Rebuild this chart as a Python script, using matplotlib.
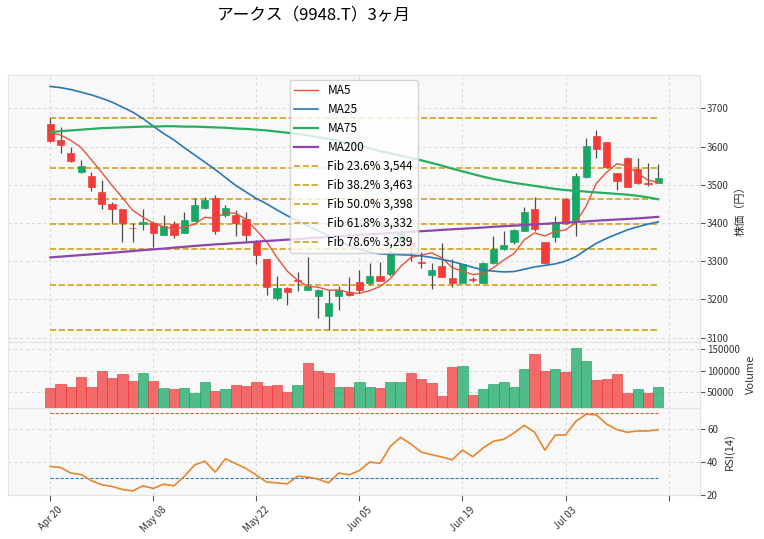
import matplotlib
matplotlib.use('Agg')
import matplotlib.pyplot as plt
from matplotlib.lines import Line2D
from matplotlib.ticker import FuncFormatter
import numpy as np

plt.rcParams['font.family'] = ['Noto Sans CJK JP', 'DejaVu Sans']

# ---------------- data ----------------
title = 'アークス（9948.T）3ヶ月'

opens = [3660, 3617, 3582, 3534, 3524, 3481, 3450, 3436, 3387, 3397,
         3399, 3369, 3397, 3374, 3405, 3440, 3466, 3420, 3420, 3410,
         3354, 3305, 3205, 3231, 3250, 3225, 3210, 3156, 3210, 3220,
         3246, 3244, 3262, 3266, 3349, 3347, 3297, 3265, 3288, 3257,
         3244, 3252, 3244, 3295, 3331, 3349, 3380, 3437, 3349, 3364,
         3464, 3406, 3521, 3627, 3611, 3530, 3571, 3540, 3505, 3505]
highs = [3675, 3650, 3599, 3566, 3534, 3512, 3456, 3437, 3401, 3436,
         3404, 3420, 3406, 3430, 3466, 3467, 3472, 3447, 3435, 3430,
         3355, 3306, 3262, 3233, 3271, 3310, 3227, 3225, 3236, 3260,
         3277, 3295, 3299, 3330, 3384, 3364, 3325, 3295, 3347, 3305,
         3294, 3260, 3297, 3366, 3380, 3383, 3443, 3467, 3350, 3417,
         3466, 3530, 3622, 3643, 3612, 3531, 3573, 3571, 3556, 3554]
lows = [3613, 3582, 3560, 3530, 3484, 3436, 3401, 3349, 3349, 3382,
        3336, 3368, 3360, 3373, 3404, 3437, 3370, 3416, 3365, 3349,
        3292, 3211, 3199, 3185, 3221, 3224, 3151, 3120, 3173, 3210,
        3217, 3238, 3248, 3262, 3330, 3300, 3282, 3228, 3258, 3232,
        3243, 3246, 3243, 3292, 3330, 3346, 3378, 3378, 3292, 3350,
        3397, 3366, 3517, 3571, 3545, 3486, 3494, 3503, 3498, 3504]
closes = [3615, 3604, 3561, 3550, 3495, 3450, 3436, 3399, 3386, 3402,
          3374, 3391, 3369, 3407, 3446, 3461, 3379, 3440, 3399, 3369,
          3316, 3233, 3231, 3220, 3249, 3236, 3226, 3192, 3225, 3211,
          3225, 3262, 3249, 3323, 3373, 3341, 3296, 3277, 3259, 3244,
          3292, 3251, 3296, 3332, 3342, 3381, 3430, 3384, 3295, 3402,
          3399, 3523, 3601, 3594, 3547, 3510, 3495, 3504, 3503, 3517]
prev_close = 3640  # close of the day before the window

volumes = [60700, 69800, 63000, 85900, 63000, 99600, 83600, 92700, 76700, 95000,
           76700, 60700, 58400, 60700, 49200, 74400, 53800, 58400, 67600, 65300,
           74400, 65300, 67600, 51500, 67600, 117900, 99600, 95000, 63000, 63000,
           74400, 63000, 60700, 74400, 74400, 95000, 81300, 72100, 42400, 108800,
           111100, 44700, 58400, 69800, 74400, 63000, 104200, 138500, 99600, 104200,
           97300, 152300, 122500, 79000, 81300, 92700, 49200, 58400, 49200, 63000]

ma5 = [3637, 3630, 3616, 3597, 3565, 3532, 3498, 3466, 3433, 3415,
       3399, 3390, 3384, 3389, 3397, 3415, 3412, 3427, 3425, 3410,
       3381, 3351, 3310, 3274, 3250, 3234, 3232, 3224, 3225, 3218,
       3216, 3223, 3234, 3254, 3286, 3310, 3316, 3322, 3309, 3283,
       3274, 3265, 3268, 3283, 3303, 3320, 3356, 3374, 3366, 3378,
       3382, 3401, 3444, 3504, 3533, 3555, 3549, 3530, 3512, 3506]
ma25 = [3757, 3754, 3749, 3742, 3735, 3726, 3716, 3703, 3690, 3673,
        3653, 3634, 3617, 3597, 3578, 3559, 3540, 3519, 3498, 3481,
        3464, 3450, 3434, 3419, 3406, 3392, 3380, 3366, 3354, 3341,
        3331, 3324, 3319, 3318, 3317, 3316, 3314, 3310, 3305, 3299,
        3292, 3284, 3277, 3274, 3272, 3273, 3279, 3285, 3289, 3293,
        3300, 3312, 3330, 3347, 3360, 3371, 3382, 3390, 3397, 3403]
ma75 = [3638, 3640, 3642, 3644, 3646, 3648, 3649, 3650, 3651, 3652,
        3652, 3653, 3653, 3652, 3652, 3651, 3650, 3649, 3647, 3646,
        3644, 3642, 3639, 3636, 3633, 3629, 3624, 3620, 3615, 3609,
        3602, 3595, 3588, 3582, 3576, 3570, 3564, 3557, 3550, 3542,
        3535, 3528, 3521, 3515, 3510, 3505, 3501, 3497, 3493, 3489,
        3486, 3484, 3482, 3480, 3478, 3476, 3474, 3471, 3467, 3462]
ma200 = [3310, 3312, 3314, 3316, 3318, 3320, 3322, 3324.5, 3326.5, 3329,
         3331, 3333, 3335.5, 3337.5, 3340, 3342, 3344, 3345.5, 3347.5, 3349,
         3351, 3353, 3354.5, 3356.5, 3358, 3360, 3362, 3363.5, 3365.5, 3367,
         3369, 3370.5, 3372, 3374, 3375.5, 3377, 3378.5, 3380, 3382, 3383.5,
         3385, 3386.5, 3388, 3390, 3391.5, 3393, 3394.5, 3396, 3398, 3399.5,
         3401, 3402.5, 3404, 3406, 3407.5, 3409, 3410.5, 3412, 3414, 3416]
rsi14 = [37.3, 36.7, 33.3, 32.4, 28.6, 26.1, 25.1, 23.3, 22.4, 25.5,
         23.9, 26.5, 25.5, 31.2, 38.2, 40.6, 33.9, 42.0, 39.0, 36.1,
         32.0, 27.8, 27.3, 26.7, 31.4, 30.8, 29.6, 27.3, 33.3, 32.2,
         34.9, 40.0, 39.3, 49.6, 55.1, 51.0, 46.1, 44.5, 43.1, 41.4,
         47.3, 43.3, 48.6, 52.7, 53.9, 57.8, 62.4, 58.2, 47.3, 56.5,
         56.5, 64.9, 69.2, 68.8, 63.1, 59.8, 58.2, 59.0, 59.0, 59.8]

tick_pos = [0, 10, 20, 30, 40, 50, 60]
tick_labels = ['Apr 20', 'May 08', 'May 22', 'Jun 05', 'Jun 19', 'Jul 03', '']

fib_high = 3675
fib_low = 3120
fib_ratios = [0.236, 0.382, 0.5, 0.618, 0.786]

# ---------------- styling ----------------
UP = '#17a865'
DOWN = '#f23b3b'
FACE = '#f8f8f8'
GRID = '#d8d8d8'
SPINE = '#e3e3e3'
FIB = '#d4a017'

fig = plt.figure(figsize=(7.64, 5.39), dpi=100)
L, W = 8 / 764, 691.5 / 764
ax1 = fig.add_axes([L, 197.3 / 539, W, 266.7 / 539])
ax2 = fig.add_axes([L, 131.3 / 539, W, 66 / 539], sharex=ax1)
ax3 = fig.add_axes([L, 44 / 539, W, 87.3 / 539], sharex=ax1)

for ax in (ax1, ax2, ax3):
    ax.set_facecolor(FACE)
    ax.grid(True, color=GRID, linestyle=(0, (3, 3)), linewidth=0.7)
    ax.set_axisbelow(True)
    for s in ax.spines.values():
        s.set_color(SPINE)
        s.set_linewidth(0.8)
    ax.yaxis.tick_right()
    ax.yaxis.set_label_position('right')
    ax.tick_params(axis='y', labelsize=7, length=3.5, color='#555555',
                   labelcolor='#333333', direction='out', pad=2)

n = len(closes)
x = np.arange(n)
o = np.array(opens, float)
h = np.array(highs, float)
lo = np.array(lows, float)
c = np.array(closes, float)
up = c >= o

# ---------------- price panel ----------------
fib_levels = [fib_high - r * (fib_high - fib_low) for r in fib_ratios]
ax1.hlines([fib_high, fib_low], 0, n - 1, colors=FIB, linestyles='--',
           linewidth=1.2, zorder=1.5)
fib_handles = []
for r, lev in zip(fib_ratios, fib_levels):
    ax1.hlines(lev, 0, n - 1, colors=FIB, linestyles='--', linewidth=1.2, zorder=1.5)
    fib_handles.append(Line2D([], [], color=FIB, linestyle='--', linewidth=1.2,
                              label=f'Fib {r * 100:.1f}% {lev:,.0f}'))

ax1.vlines(x, lo, h, colors='#4d4d4d', linewidth=0.9, zorder=2)
body_bottom = np.minimum(o, c)
body_h = np.maximum(np.abs(c - o), 1.3)
colors = np.where(up, UP, DOWN)
ax1.bar(x, body_h, bottom=body_bottom, width=0.7, color=colors,
        edgecolor=colors, linewidth=0.5, zorder=3)

l5, = ax1.plot(x, ma5, color='#e5533d', linewidth=1.0, zorder=4, label='MA5')
l25, = ax1.plot(x, ma25, color='#2878b5', linewidth=1.2, zorder=4, label='MA25')
l75, = ax1.plot(x, ma75, color='#27ae60', linewidth=1.6, zorder=4, label='MA75')
l200, = ax1.plot(x, ma200, color='#8e44ad', linewidth=1.6, zorder=4, label='MA200')

leg = ax1.legend(handles=[l5, l25, l75, l200] + fib_handles, loc='upper center',
                 fontsize=8.5, framealpha=0.8, edgecolor='#cccccc',
                 borderaxespad=0.4, handlelength=2.0, labelspacing=0.5)
leg.set_zorder(10)

ax1.set_ylim(3089.5, 3787)
ax1.set_yticks([3100, 3200, 3300, 3400, 3500, 3600, 3700])
ax1.set_ylabel('株価（円）', fontsize=8, color='#333333', labelpad=4)
ax1.tick_params(axis='x', labelbottom=False, length=0)

# ---------------- volume panel ----------------
cc = np.concatenate([[prev_close], c])
vol_up = cc[1:] > cc[:-1]
vcol = np.where(vol_up, UP, DOWN)
ax2.bar(x, volumes, width=1.0, color=vcol, alpha=0.75, edgecolor=vcol,
        linewidth=0.6, zorder=3)
ax2.set_ylim(14200, 167000)
ax2.set_yticks([50000, 100000, 150000])
ax2.yaxis.set_major_formatter(FuncFormatter(lambda v, p: f'{int(v)}'))
ax2.set_ylabel('Volume', fontsize=8, color='#333333', labelpad=4)
ax2.tick_params(axis='x', labelbottom=False, length=0)

# ---------------- RSI panel ----------------
ax3.hlines(70, 0, n - 1, colors='#e05a3a', linestyles=(0, (3, 1.5)), linewidth=0.8, zorder=2)
ax3.hlines(30, 0, n - 1, colors='#2e7fc0', linestyles=(0, (3, 1.5)), linewidth=0.8, zorder=2)
ax3.plot(x, rsi14, color='#e6862a', linewidth=1.2, zorder=3)
ax3.set_ylim(19.9, 73.2)
ax3.set_yticks([20, 40, 60])
ax3.set_ylabel('RSI(14)', fontsize=8, color='#333333', labelpad=4)

ax3.set_xlim(-4.1, 63.0)
ax3.set_xticks(tick_pos)
ax3.set_xticklabels(tick_labels, rotation=45, ha='center', fontsize=7, color='#333333')
ax3.tick_params(axis='x', length=4, color='#555555', direction='out', pad=3)

fig.text(314 / 764, 1 - 15 / 539, title, ha='center', va='center', fontsize=12)

fig.savefig('out.png', dpi=100, facecolor='white')
